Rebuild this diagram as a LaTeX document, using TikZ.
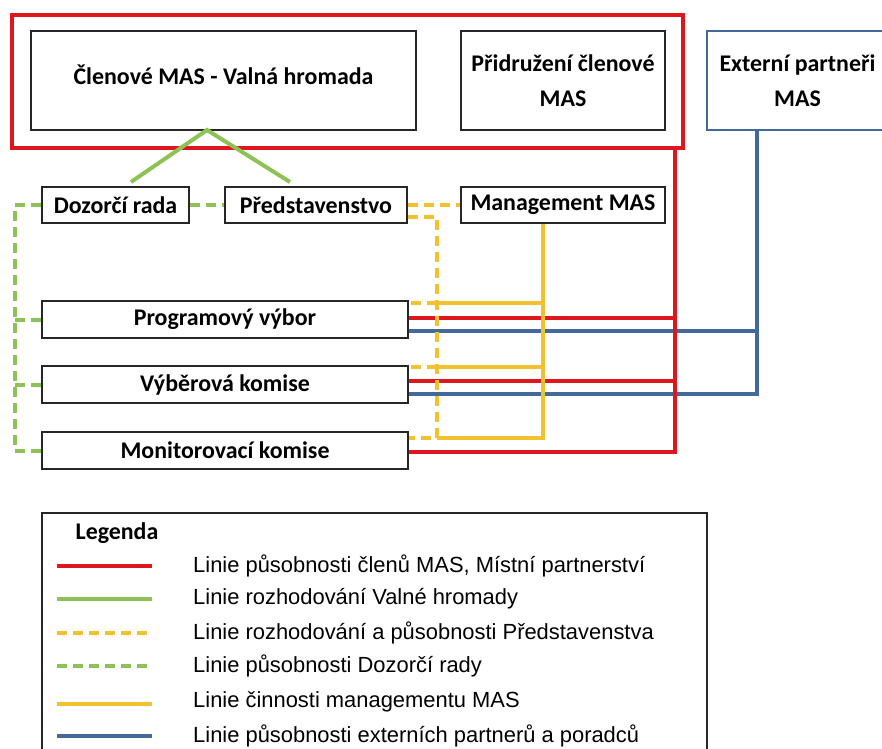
\documentclass[tikz,border=0pt]{standalone}
\usepackage{fontspec}
\setmainfont{Carlito}
\newfontfamily\legfont{Liberation Sans}
\definecolor{cred}{HTML}{E0161E}
\definecolor{cgreen}{HTML}{8DC255}
\definecolor{cyellow}{HTML}{F2C12E}
\definecolor{cblue}{HTML}{41699A}
\begin{document}
\begin{tikzpicture}[x=1bp,y=-1bp,
  box/.style={draw=black!85, line width=1.4bp, inner sep=0pt, align=center,
    font=\fontsize{24}{35}\selectfont\bfseries},
  redl/.style={draw=cred, line width=4bp},
  bluel/.style={draw=cblue, line width=3.5bp},
  gsolid/.style={draw=cgreen, line width=4bp},
  gdash/.style={draw=cgreen, line width=4bp, dash pattern=on 10bp off 6bp},
  ysolid/.style={draw=cyellow, line width=4bp},
  ydash/.style={draw=cyellow, line width=4bp, dash pattern=on 10bp off 6bp},
  legtext/.style={anchor=west, inner sep=0pt, font=\legfont\fontsize{22}{24}\selectfont},
  legline/.style={line width=4.5bp}]
\useasboundingbox (0,0) rectangle (882,749);
\fill[white] (0,0) rectangle (882,749);

% top boxes
\node[draw=cred, line width=4bp, minimum width=671bp, minimum height=133bp, inner sep=0pt] (redbox) at (347.5,81.5) {};
\node[box, minimum width=385bp, minimum height=99bp, text depth=12bp] (vh) at (223.5,80.5) {Členové MAS - Valná hromada};
\node[box, minimum width=204bp, minimum height=99bp] (prid) at (563,80.5) {Přidružení členové\\MAS};
\node[box, draw=cblue, line width=2bp, minimum width=181bp, minimum height=99bp] (ext) at (797.5,80.5) {Externí partneři\\MAS};

% second row
\node[box, minimum width=147bp, minimum height=36bp] (dr) at (115.5,205) {Dozorčí rada};
\node[box, minimum width=182bp, minimum height=36bp] (pr) at (316,205) {Představenstvo};
\node[box, minimum width=204bp, minimum height=36bp] (mm) at (563,205) {Management MAS};

% committees
\node[box, minimum width=366bp, minimum height=37bp] (pv) at (225,319.5) {Programový výbor};
\node[box, minimum width=366bp, minimum height=37bp] (vk) at (225,384.5) {Výběrová komise};
\node[box, minimum width=366bp, minimum height=37bp] (mk) at (225,450.5) {Monitorovací komise};

% junction coordinates
\coordinate (gapex) at (207,130);
\coordinate (gl) at (131,182);
\coordinate (gr) at (290,182);
\coordinate (g0) at (15,205);
\coordinate (yd0) at (437,217);
\coordinate (yd1) at (437,303);
\coordinate (yd2) at (437,367);
\coordinate (yd3) at (437,438);
\coordinate (ys1) at (543,303);
\coordinate (ys2) at (543,367);
\coordinate (ys3) at (543,438);
\coordinate (r1) at (675,318);
\coordinate (r2) at (675,381);
\coordinate (r3) at (675,452);
\coordinate (b1) at (757,331);
\coordinate (b2) at (757,394);

% green solid
\draw[gsolid] (gl) -- (gapex) -- (gr);
% green dashed
\draw[gdash] (dr.east) -- (pr.west);
\draw[gdash] (dr.west) -- (g0) -- (mk.west -| g0) -- (mk.west);
\draw[gdash] (pv.west -| g0) -- (pv.west);
\draw[gdash] (vk.west -| g0) -- (vk.west);

% blue
\draw[bluel] (ext.south -| b1) -- (b2) -- (vk.east |- b2);
\draw[bluel] (b1) -- (pv.east |- b1);

% red
\draw[redl] (redbox.south -| r1) -- (r3) -- (mk.east |- r3);
\draw[redl] (r1) -- (pv.east |- r1);
\draw[redl] (r2) -- (vk.east |- r2);

% yellow solid
\draw[ysolid] (mm.south -| ys1) -- (ys3) -- (yd3);
\draw[ysolid] (ys1) -- (yd1);
\draw[ysolid] (ys2) -- (yd2);
% yellow dashed
\draw[ydash] (pr.east) -- (mm.west);
\draw[ydash] (pr.east |- yd0) -- (yd0) -- (yd3) -- (mk.east |- yd3);
\draw[ydash] (yd1) -- (pv.east |- yd1);
\draw[ydash] (yd2) -- (vk.east |- yd2);

% legend
\node[draw=black!85, line width=1.4bp, minimum width=665bp, minimum height=260bp, inner sep=0pt] (leg) at (374.5,643) {};
\node[inner sep=0pt, font=\fontsize{24}{27}\selectfont\bfseries] (legt) at (117,533) {Legenda};

\coordinate (la1) at (57,566);  \coordinate (lb1) at (152,566);
\coordinate (la2) at (57,599);  \coordinate (lb2) at (152,599);
\coordinate (la3) at (57,633);  \coordinate (lb3) at (152,633);
\coordinate (la4) at (57,666);  \coordinate (lb4) at (152,666);
\coordinate (la5) at (57,704);  \coordinate (lb5) at (152,704);
\coordinate (la6) at (57,736);  \coordinate (lb6) at (152,736);

\draw[legline, draw=cred] (la1) -- (lb1);
\draw[legline, draw=cgreen] (la2) -- (lb2);
\draw[legline, draw=cyellow, dash pattern=on 10bp off 6bp] (la3) -- (lb3);
\draw[legline, draw=cgreen, dash pattern=on 10bp off 6bp] (la4) -- (lb4);
\draw[legline, draw=cyellow] (la5) -- (lb5);
\draw[legline, draw=cblue] (la6) -- (lb6);

\node[legtext] (lt1) at (193,566) {Linie působnosti členů MAS, Místní partnerství};
\node[legtext] (lt2) at (193,599) {Linie rozhodování Valné hromady};
\node[legtext] (lt3) at (193,633) {Linie rozhodování a působnosti Představenstva};
\node[legtext] (lt4) at (193,666) {Linie působnosti Dozorčí rady};
\node[legtext] (lt5) at (193,702) {Linie činnosti managementu MAS};
\node[legtext] (lt6) at (193,736) {Linie působnosti externích partnerů a poradců};
\end{tikzpicture}
\end{document}
